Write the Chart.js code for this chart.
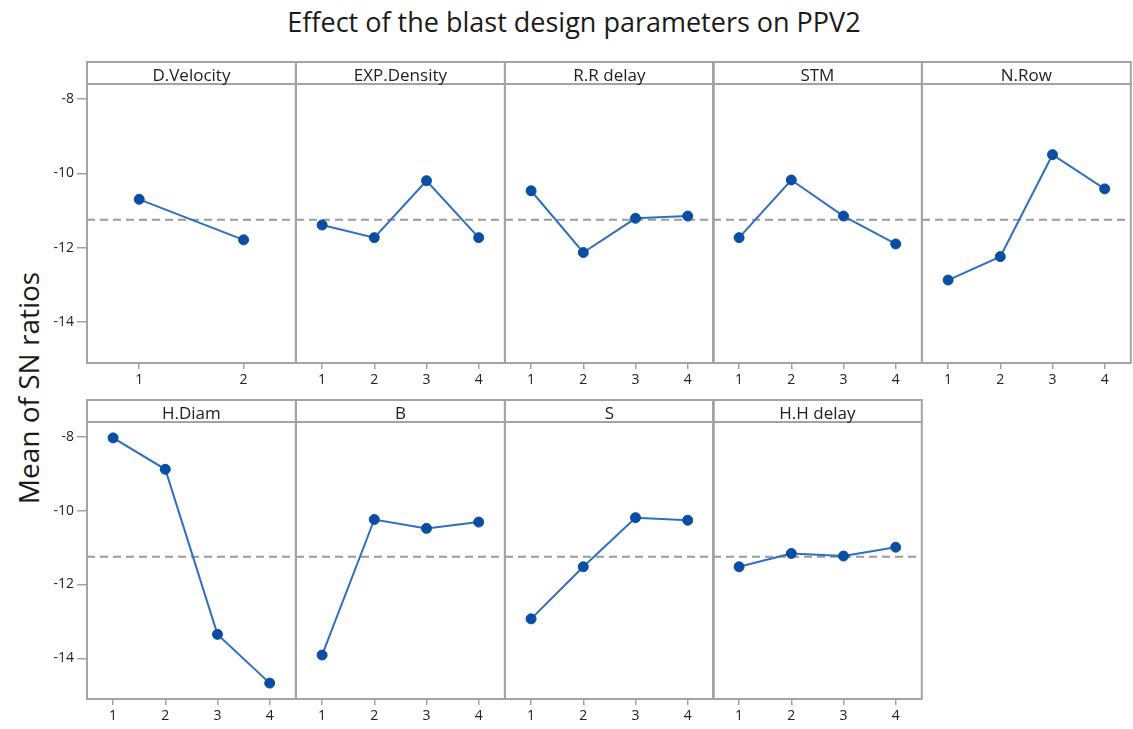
<!DOCTYPE html>
<html>
<head>
<meta charset="utf-8">
<script src="https://cdn.jsdelivr.net/npm/chart.js@4.4.1/dist/chart.umd.min.js"></script>
<style>
  html, body { margin: 0; padding: 0; background: #fff; }
  #fig { position: relative; width: 1133px; height: 729px; overflow: hidden; background: #fff; }
  #title { position: absolute; left: 0; width: 1148px; top: 3px; text-align: center;
           font-family: "Open Sans", "Noto Sans", sans-serif; font-size: 27px; color: #1a1a1a; }
  #ylab { position: absolute; left: 28px; top: 388px; transform: translate(-50%, -50%) rotate(-90deg);
          white-space: nowrap; font-family: "Open Sans", "Noto Sans", sans-serif; font-size: 28px; color: #1a1a1a; }
  canvas { position: absolute; }
</style>
</head>
<body>
<div id="fig">
  <div id="title">Effect of the blast design parameters on PPV2</div>
  <div id="ylab">Mean of SN ratios</div>
</div>
<script>
// Factor names (panel headers) and level labels
const factors = ['D.Velocity', 'EXP.Density', 'R.R delay', 'STM', 'N.Row', 'H.Diam', 'B', 'S', 'H.H delay'];
const levels2 = ['1', '2'];
const levels4 = ['1', '2', '3', '4'];

// Mean S/N ratio for each level of each factor
const dVelocity  = [-10.70, -11.79];
const expDensity = [-11.39, -11.73, -10.20, -11.73];
const rrDelay    = [-10.47, -12.13, -11.21, -11.15];
const stm        = [-11.73, -10.18, -11.15, -11.90];
const nRow       = [-12.87, -12.24, -9.50, -10.42];
const hDiam      = [-8.03, -8.88, -13.35, -14.67];
const burden     = [-13.91, -10.24, -10.48, -10.31];
const spacing    = [-12.93, -11.52, -10.19, -10.26];
const hhDelay    = [-11.52, -11.16, -11.23, -10.99];

// Overall mean (dashed reference line) and shared y axis
const grandMean = -11.25;
const yTicks = [-14, -12, -10, -8];
const yMin = -15.1, yMax = -7.6;

const panels = [
  { name: factors[0], labels: levels2, values: dVelocity },
  { name: factors[1], labels: levels4, values: expDensity },
  { name: factors[2], labels: levels4, values: rrDelay },
  { name: factors[3], labels: levels4, values: stm },
  { name: factors[4], labels: levels4, values: nRow },
  { name: factors[5], labels: levels4, values: hDiam },
  { name: factors[6], labels: levels4, values: burden },
  { name: factors[7], labels: levels4, values: spacing },
  { name: factors[8], labels: levels4, values: hhDelay }
];

// Grid geometry
const gridLeft = 87, gridRight = 1131, nCols = 5;
const panelW = (gridRight - gridLeft) / nCols;
const headerH = 22;
const rows = [
  { headerTop: 62, plotBottom: 363 },
  { headerTop: 400, plotBottom: 699 }
];
const xAxisH = 28;
const frameColor = '#a3a3a3';
const textColor = '#222222';
const fontFamily = '"Open Sans", "Noto Sans", sans-serif';

const panelFrame = {
  id: 'panelFrame',
  beforeDatasetsDraw(chart) {
    const { ctx, chartArea: a, scales } = chart;
    ctx.save();
    // dashed overall-mean line
    const yp = scales.y.getPixelForValue(grandMean);
    ctx.strokeStyle = '#9b9b9b';
    ctx.lineWidth = 2;
    ctx.setLineDash([8, 5]);
    ctx.beginPath();
    ctx.moveTo(a.left, yp);
    ctx.lineTo(a.right, yp);
    ctx.stroke();
    ctx.restore();
  },
  afterDraw(chart, args, opts) {
    const { ctx, chartArea: a } = chart;
    ctx.save();
    ctx.strokeStyle = frameColor;
    ctx.lineWidth = 2;
    ctx.setLineDash([]);
    // header strip
    ctx.strokeRect(a.left, a.top - headerH, a.right - a.left, headerH);
    // plot box
    ctx.strokeRect(a.left, a.top, a.right - a.left, a.bottom - a.top);
    ctx.fillStyle = textColor;
    ctx.font = '17px ' + fontFamily;
    ctx.textAlign = 'center';
    ctx.textBaseline = 'alphabetic';
    ctx.fillText(opts.header, (a.left + a.right) / 2, a.top - 3);
    ctx.restore();
  }
};

const fig = document.getElementById('fig');

panels.forEach((p, i) => {
  const r = Math.floor(i / nCols), c = i % nCols;
  const row = rows[r];
  const pLeft = gridLeft + c * panelW;
  const padL = c === 0 ? 0 : 2;
  const cLeft = c === 0 ? 0 : pLeft - 2;
  const cTop = row.headerTop - 2;
  const cW = pLeft + panelW + 2 - cLeft;
  const cH = row.plotBottom + xAxisH - cTop;

  const canvas = document.createElement('canvas');
  canvas.width = Math.ceil(cW);
  canvas.height = cH;
  canvas.style.left = cLeft + 'px';
  canvas.style.top = cTop + 'px';
  canvas.style.width = Math.ceil(cW) + 'px';
  canvas.style.height = cH + 'px';
  fig.appendChild(canvas);

  new Chart(canvas, {
    type: 'line',
    data: {
      labels: p.labels,
      datasets: [{
        data: p.values,
        borderColor: '#2e6fbf',
        borderWidth: 2,
        pointRadius: 5,
        pointHoverRadius: 5,
        pointBackgroundColor: '#0a4ea3',
        pointBorderColor: '#0a4ea3',
        pointBorderWidth: 1,
        tension: 0,
        clip: false
      }]
    },
    options: {
      responsive: false,
      animation: false,
      events: [],
      layout: {
        autoPadding: false,
        padding: { left: padL, right: Math.ceil(cW) - cW + 2, top: 2 + headerH, bottom: 0 }
      },
      plugins: {
        legend: { display: false },
        tooltip: { enabled: false },
        title: { display: false },
        panelFrame: { header: p.name }
      },
      scales: {
        x: {
          type: 'category',
          offset: true,
          grid: { drawOnChartArea: false, drawTicks: true, tickLength: 6, color: frameColor, lineWidth: 1.5, offset: false },
          border: { display: false },
          ticks: { color: textColor, font: { family: fontFamily, size: 14 }, padding: 3, maxRotation: 0 },
          afterFit(scale) { scale.height = xAxisH; }
        },
        y: {
          display: c === 0,
          min: yMin,
          max: yMax,
          grid: { drawOnChartArea: false, drawTicks: true, tickLength: 10, color: frameColor, lineWidth: 1.5 },
          border: { display: false },
          ticks: { color: textColor, font: { family: fontFamily, size: 14 }, padding: 3 },
          afterBuildTicks(scale) { scale.ticks = yTicks.map(v => ({ value: v })); },
          afterFit(scale) { scale.width = c === 0 ? gridLeft : 0; }
        }
      }
    },
    plugins: [panelFrame]
  });
});
</script>
</body>
</html>
